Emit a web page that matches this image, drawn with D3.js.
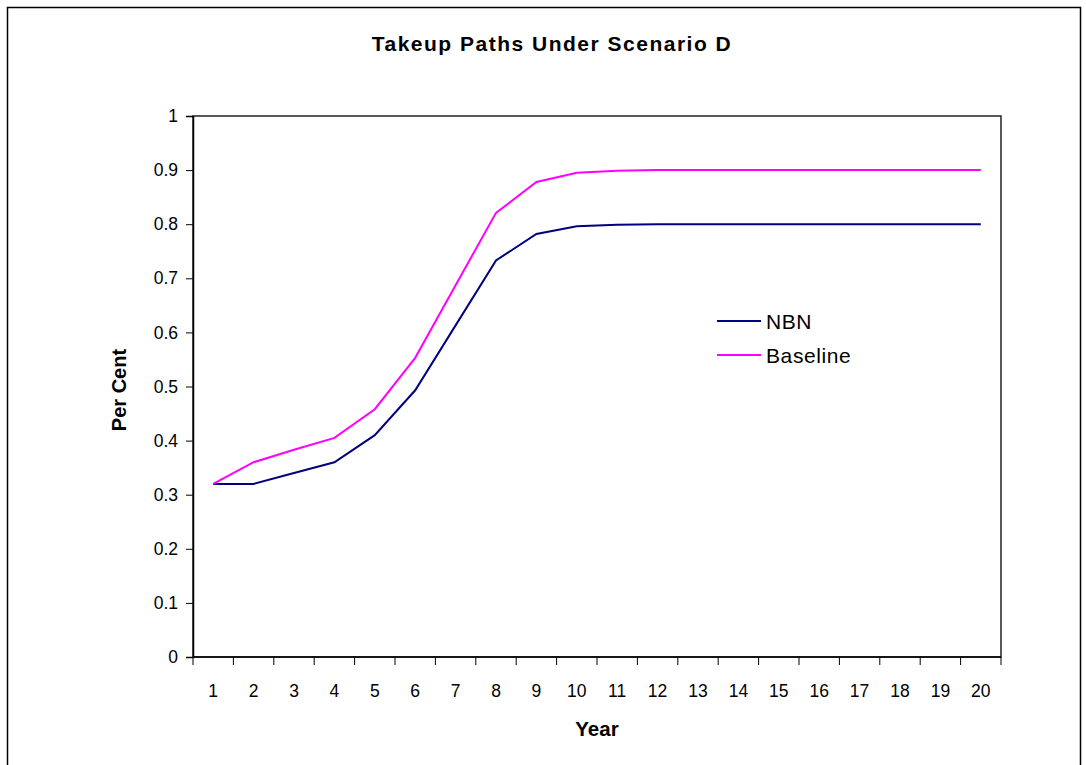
<!DOCTYPE html>
<html>
<head>
<meta charset="utf-8">
<script src="https://cdn.jsdelivr.net/npm/d3@7"></script>
<style>
  html, body { margin: 0; padding: 0; background: #fff; }
  svg { display: block; font-family: Arial, "Liberation Sans", sans-serif; }
</style>
</head>
<body>
<svg id="chart" width="1086" height="765"></svg>
<script>
const years = ["1","2","3","4","5","6","7","8","9","10","11","12","13","14","15","16","17","18","19","20"];
const nbnValues = [0.32,0.32,0.34,0.36,0.41,0.493,0.613,0.733,0.782,0.796,0.799,0.8,0.8,0.8,0.8,0.8,0.8,0.8,0.8,0.8];
const baselineValues = [0.32,0.36,0.383,0.405,0.458,0.553,0.687,0.821,0.878,0.895,0.899,0.9,0.9,0.9,0.9,0.9,0.9,0.9,0.9,0.9];
const yTicks = [0,0.1,0.2,0.3,0.4,0.5,0.6,0.7,0.8,0.9,1];
const seriesNames = ["NBN","Baseline"];
const seriesColors = ["#000080","#FF00FF"];

const svg = d3.select("#chart");
const plot = {left:193, top:116, right:1001, bottom:657};

// outer frame
svg.append("rect").attr("x",7.5).attr("y",7.5).attr("width",1073).attr("height",800)
  .attr("fill","none").attr("stroke","#000").attr("stroke-width",1.5);

const x = d3.scaleBand().domain(years).range([plot.left, plot.right]).paddingInner(0).paddingOuter(0);
const y = d3.scaleLinear().domain([0,1]).range([plot.bottom, plot.top]);

// plot area border
svg.append("rect").attr("x",plot.left).attr("y",plot.top)
  .attr("width",plot.right-plot.left).attr("height",plot.bottom-plot.top)
  .attr("fill","none").attr("stroke","#222").attr("stroke-width",1.5);

// y axis
const yAxis = d3.axisLeft(y).tickValues(yTicks).tickSize(7).tickPadding(8)
  .tickFormat(d => d === 0 ? "0" : d === 1 ? "1" : d3.format(".1f")(d));
const gy = svg.append("g").attr("transform",`translate(${plot.left},0)`).call(yAxis);
gy.select(".domain").attr("stroke","#000").attr("stroke-width",1.5);
gy.selectAll(".tick line").attr("stroke","#000").attr("stroke-width",1);
gy.selectAll(".tick text").attr("font-size",17.5).attr("fill","#000")
  .attr("font-family","Arial, 'Liberation Sans', sans-serif");

// x axis: ticks at band boundaries
const xAxisG = svg.append("g").attr("transform",`translate(0,${plot.bottom})`);
xAxisG.append("line").attr("x1",plot.left).attr("x2",plot.right).attr("stroke","#000").attr("stroke-width",1.5);
const boundaries = years.map(d => x(d)).concat([plot.right]);
xAxisG.selectAll("line.tk").data(boundaries).join("line").attr("class","tk")
  .attr("x1",d=>d).attr("x2",d=>d).attr("y1",0).attr("y2",8).attr("stroke","#000").attr("stroke-width",1);
xAxisG.selectAll("text").data(years).join("text")
  .attr("x", d => x(d) + x.bandwidth()/2).attr("y", 40)
  .attr("text-anchor","middle").attr("font-size",17.5).attr("fill","#000").text(d=>d);

// lines
const line = d3.line().x((d,i) => x(years[i]) + x.bandwidth()/2).y(d => y(d));
[nbnValues, baselineValues].forEach((vals, k) => {
  svg.append("path").datum(vals).attr("d", line).attr("fill","none")
    .attr("stroke", seriesColors[k]).attr("stroke-width", 2).attr("stroke-linejoin","miter");
});

// title
svg.append("text").attr("x",552).attr("y",51).attr("text-anchor","middle")
  .attr("font-size",21).attr("font-weight","bold").attr("letter-spacing",1.5)
  .text("Takeup Paths Under Scenario D");
// axis titles
svg.append("text").attr("x",597).attr("y",736).attr("text-anchor","middle")
  .attr("font-size",20.5).attr("font-weight","bold").text("Year");
svg.append("text").attr("transform","translate(126,390) rotate(-90)").attr("text-anchor","middle")
  .attr("font-size",20).attr("font-weight","bold").text("Per Cent");

// legend
const legend = svg.append("g");
seriesNames.forEach((name,k) => {
  const ly = 321 + k*34;
  legend.append("line").attr("x1",717).attr("x2",761).attr("y1",ly).attr("y2",ly)
    .attr("stroke",seriesColors[k]).attr("stroke-width",2);
  legend.append("text").attr("x",766).attr("y",ly+7.5).attr("font-size",21)
    .attr("letter-spacing",0.6).text(name);
});
</script>
</body>
</html>
